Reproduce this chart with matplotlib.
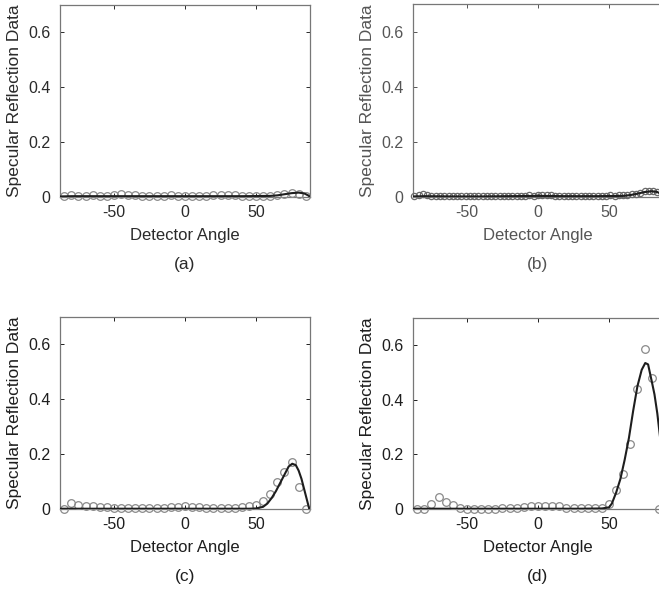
"""Four panels of specular reflection data against detector angle."""

import matplotlib.pyplot as plt

plt.rcParams["font.family"] = ["Liberation Sans", "DejaVu Sans"]
plt.rcParams["axes.unicode_minus"] = False

# Measured angles (degrees) for panels (a), (c), (d)
ANGLES = [-85, -80, -75, -70, -65, -60, -55, -50, -45, -40, -35, -30, -25,
          -20, -15, -10, -5, 0, 5, 10, 15, 20, 25, 30, 35, 40, 45, 50, 55,
          60, 65, 70, 75, 80, 85]

# Denser angle sampling used in panel (b)
ANGLES_B = [-87, -84, -81, -78, -75, -72, -69, -66, -63, -60, -57, -54, -51,
            -48, -45, -42, -39, -36, -33, -30, -27, -24, -21, -18, -15, -12,
            -9, -6, -3, 0, 3, 6, 9, 12, 15, 18, 21, 24, 27, 30, 33, 36, 39,
            42, 45, 48, 51, 54, 57, 60, 63, 66, 69, 72, 75, 78, 81, 84, 87]

DATA_A = [0.003, 0.008, 0.005, 0.004, 0.006, 0.003, 0.002, 0.006, 0.01,
          0.007, 0.008, 0.004, 0.003, 0.005, 0.004, 0.006, 0.004, 0.005,
          0.004, 0.005, 0.004, 0.006, 0.007, 0.009, 0.006, 0.005, 0.004,
          0.005, 0.003, 0.004, 0.006, 0.01, 0.014, 0.012, 0.004]
DATA_B = [0.003, 0.006, 0.012, 0.008, 0.004, 0.003, 0.002, 0.003, 0.002,
          0.003, 0.002, 0.002, 0.003, 0.002, 0.003, 0.002, 0.002, 0.003,
          0.002, 0.003, 0.002, 0.003, 0.004, 0.003, 0.004, 0.005, 0.004,
          0.006, 0.005, 0.007, 0.009, 0.007, 0.006, 0.005, 0.004, 0.005,
          0.004, 0.003, 0.004, 0.003, 0.004, 0.003, 0.004, 0.003, 0.005,
          0.004, 0.006, 0.005, 0.006, 0.007, 0.008, 0.01, 0.012, 0.016,
          0.02, 0.022, 0.021, 0.017, 0.008]
DATA_C = [0.0, 0.022, 0.016, 0.01, 0.01, 0.008, 0.006, 0.003, 0.002, 0.002,
          0.002, 0.003, 0.003, 0.004, 0.005, 0.006, 0.008, 0.01, 0.009,
          0.007, 0.005, 0.004, 0.003, 0.004, 0.005, 0.008, 0.012, 0.015,
          0.03, 0.055, 0.098, 0.134, 0.173, 0.08, 0.0]
DATA_D = [0.0, 0.0, 0.02, 0.045, 0.025, 0.015, 0.002, 0.001, 0.001, 0.001,
          0.001, 0.001, 0.002, 0.002, 0.004, 0.008, 0.01, 0.01, 0.012, 0.01,
          0.01, 0.005, 0.003, 0.002, 0.002, 0.002, 0.003, 0.02, 0.07, 0.13,
          0.24, 0.44, 0.585, 0.48, 0.0]

# Fitted model curves
FIT_A_X = [-88, -80, -60, -40, -20, 0, 20, 40, 60, 65, 70, 75, 80, 84, 87, 88]
FIT_A_Y = [0.002, 0.003, 0.003, 0.003, 0.003, 0.003, 0.003, 0.003, 0.004,
           0.006, 0.01, 0.014, 0.016, 0.013, 0.005, 0.0]
FIT_B_X = [-88, -80, -60, -40, -20, 0, 20, 40, 60, 65, 70, 75, 80, 84, 87, 88]
FIT_B_Y = [0.002, 0.003, 0.002, 0.002, 0.003, 0.004, 0.003, 0.003, 0.004,
           0.007, 0.012, 0.018, 0.021, 0.018, 0.01, 0.0]
FIT_C_X = [-88, -60, -30, 0, 30, 45, 50, 55, 58, 61, 64, 67, 70, 73, 75.5,
           78, 80, 82, 84, 86, 87.5]
FIT_C_Y = [0.001, 0.001, 0.001, 0.001, 0.001, 0.001, 0.002, 0.008, 0.02,
           0.04, 0.065, 0.095, 0.125, 0.155, 0.165, 0.16, 0.14, 0.11, 0.07,
           0.03, 0.0]
FIT_D_X = [-88, -60, -30, 0, 30, 45, 50, 52, 55, 58, 61, 64, 67, 70, 73,
           75.5, 77.5, 80, 82, 84, 86, 87, 88]
FIT_D_Y = [0.001, 0.001, 0.001, 0.001, 0.001, 0.002, 0.006, 0.02, 0.06,
           0.11, 0.18, 0.26, 0.36, 0.45, 0.51, 0.535, 0.53, 0.47, 0.42, 0.35,
           0.26, 0.15, 0.0]

LABELS = ["(a)", "(b)", "(c)", "(d)"]
W, H = 659, 593


def panel(fig, rect_px, angles, data, fit_x, fit_y, label, ink, dot, ms):
    left, top, width, height = rect_px
    ax = fig.add_axes([left / W, (H - top - height) / H, width / W, height / H])

    ax.plot(angles, data, "o", mfc="none", mec=dot, ms=ms, mew=0.9,
            clip_on=False, zorder=3)
    ax.plot(fit_x, fit_y, "-", color="#1e1e1e", lw=1.5, zorder=4)

    ax.set_xlim(-88, 88)
    ax.set_ylim(0, 0.7)
    ax.set_xticks([-50, 0, 50])
    ax.set_yticks([0, 0.2, 0.4, 0.6])
    ax.set_yticklabels(["0", "0.2", "0.4", "0.6"])
    ax.tick_params(direction="in", length=3, width=0.7, top=True, right=True,
                   labelsize=11.5, colors=ink, pad=7)
    ax.tick_params(axis="x", pad=6)
    for spine in ax.spines.values():
        spine.set_color("#777777")
        spine.set_linewidth(0.9)

    ax.set_xlabel("Detector Angle", fontsize=12, color=ink)
    ax.set_ylabel("Specular Reflection Data", fontsize=12.5, color=ink)
    ax.xaxis.set_label_coords(0.5, -31 / height)
    ax.yaxis.set_label_coords(-38 / width, 0.5)
    ax.text(0.5, -68 / height, label, transform=ax.transAxes, ha="center",
            va="center", fontsize=12.5, color=ink)
    return ax


def main():
    fig = plt.figure(figsize=(W / 100, H / 100), dpi=100)

    panel(fig, (60, 5, 250, 192), ANGLES, DATA_A, FIT_A_X, FIT_A_Y,
          LABELS[0], "#2a2a2a", "#8a8a8a", 5.5)
    panel(fig, (413, 4, 250, 193), ANGLES_B, DATA_B, FIT_B_X, FIT_B_Y,
          LABELS[1], "#555555", "#6a6a6a", 4.5)
    panel(fig, (60, 317, 250, 192), ANGLES, DATA_C, FIT_C_X, FIT_C_Y,
          LABELS[2], "#1e1e1e", "#8a8a8a", 5.5)
    panel(fig, (413, 318, 250, 191), ANGLES, DATA_D, FIT_D_X, FIT_D_Y,
          LABELS[3], "#1e1e1e", "#8a8a8a", 5.5)

    fig.savefig("out.png", dpi=100, facecolor="white")


if __name__ == "__main__":
    main()
